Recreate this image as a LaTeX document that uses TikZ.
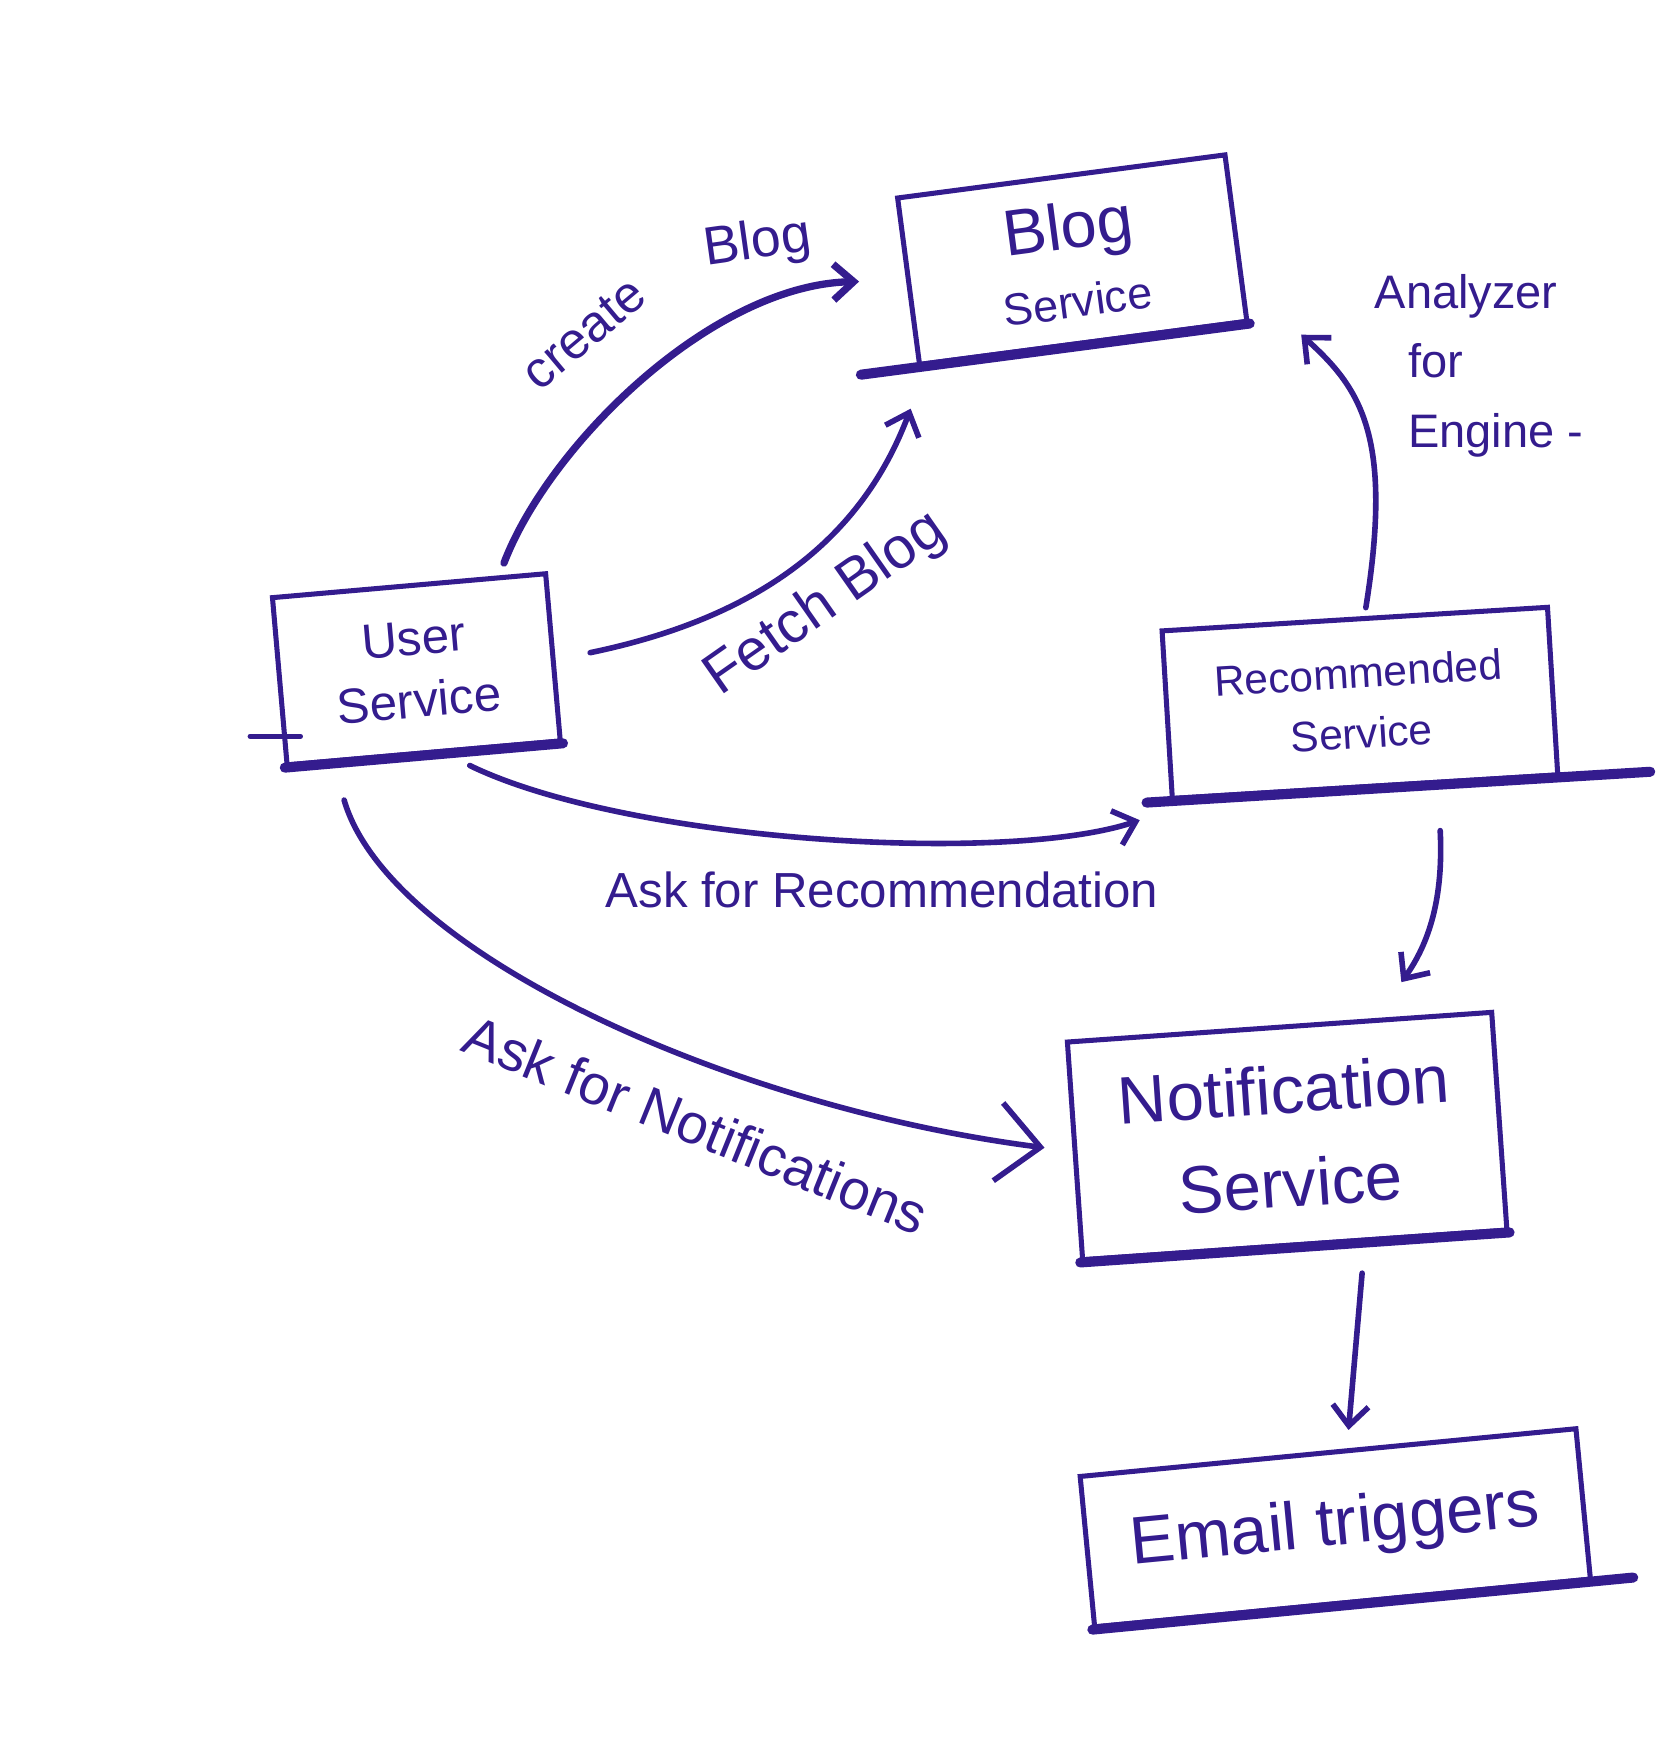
\documentclass[tikz,border=0pt]{standalone}
\usepackage{fontspec}
\setmainfont{Liberation Sans}
\usetikzlibrary{arrows.meta,calc}
\definecolor{ink}{HTML}{341C8E}
\begin{document}
\begin{tikzpicture}[x=1pt,y=-1pt,color=ink,
  box/.style={draw=ink, line width=4.5pt, rectangle, inner sep=0pt, text=ink, align=center},
  base/.style={draw=ink, line width=9pt, line cap=round},
  conn/.style={draw=ink, line width=5pt, line cap=round, line join=round,
    -{Straight Barb[length=18pt,width=32pt]}},
  lbl/.style={text=ink, inner sep=0pt}]
\fill[white] (0,0) rectangle (1490,1568);
\useasboundingbox (0,0) rectangle (1490,1568);

% boxes
\node[box, minimum width=245pt, minimum height=150pt, rotate=5, font=\fontsize{44}{56}\selectfont] (user) at (372,598)
  {User\\Service};
\node[box, minimum width=295pt, minimum height=150pt, rotate=7.5, font=\fontsize{58}{62}\selectfont] (blog) at (958,232)
  {Blog\\{\fontsize{40}{46}\selectfont Service}};
\node[box, minimum width=345pt, minimum height=150pt, rotate=3.5, font=\fontsize{38}{54}\selectfont] (rec) at (1215,628)
  {Recommended\\Service};
\node[box, minimum width=380pt, minimum height=195pt, rotate=4, font=\fontsize{60}{84}\selectfont] (notif) at (1150,1015)
  {Notification\\Service};
\node[box, minimum width=445pt, minimum height=135pt, rotate=5.5, font=\fontsize{60}{64}\selectfont] (email) at (1193,1365)
  {Email triggers};

% heavy bottom strokes
\draw[base] (user.south west) -- (user.south east);
\draw[base] ($(blog.south west)!-0.17!(blog.south east)$) -- (blog.south east);
\draw[base] ($(rec.south west)!-0.06!(rec.south east)$) -- ($(rec.south east)!-0.23!(rec.south west)$);
\draw[base] (notif.south west) -- (notif.south east);
\draw[base] (email.south west) -- ($(email.south east)!-0.08!(email.south west)$);
\draw[line width=4.5pt, line cap=round] ([xshift=-31pt,yshift=28pt]user.south west) -- ([xshift=14pt,yshift=28pt]user.south west);

% connectors
\draw[conn, line width=6.5pt] ([xshift=85pt,yshift=18pt]user.north) .. controls +(40,-105) and +(-132,3) .. ([xshift=-42pt]blog.west);
\draw[conn] ([xshift=31pt,yshift=4pt]user.east) .. controls +(135,-28) and +(-48,128) .. ([xshift=-6pt,yshift=-37pt]blog.south west);
\draw[conn] ([xshift=41pt,yshift=-9pt]user.south) .. controls +(140,68) and +(-120,40) .. ([xshift=-27pt,yshift=-17pt]rec.south west);
\draw[conn, -{Straight Barb[length=38pt,width=70pt]}] ([xshift=53pt,yshift=-29pt]user.south west) .. controls +(40,138) and +(-275,-35) .. ([xshift=-25pt,yshift=3pt]notif.west);
\draw[conn] ([xshift=10pt,yshift=8pt]rec.north) .. controls +(25,-155) and +(52,47) .. ([xshift=46pt,yshift=-10pt]blog.south east);
\draw[conn] ([xshift=67pt,yshift=-37pt]rec.south) .. controls +(3,60) and +(25,-35) .. ([xshift=109pt,yshift=38pt]notif.north);
\draw[conn] ([xshift=60pt,yshift=-23pt]notif.south) -- ([xshift=18.5pt,yshift=18pt]email.north);

% labels
\node[lbl, rotate=40, font=\fontsize{46}{50}\selectfont] (lcreate) at (522,298) {create};
\node[lbl, rotate=8, font=\fontsize{48}{50}\selectfont] (lblog) at (677,218) {Blog};
\node[lbl, rotate=35, font=\fontsize{52}{56}\selectfont] (lfetch) at (738,540) {Fetch Blog};
\node[lbl, font=\fontsize{44}{48}\selectfont] (lrec) at (788,795) {Ask for Recommendation};
\node[lbl, rotate=-22, font=\fontsize{50}{54}\selectfont] (lnot) at (622,1005) {Ask for Notifications};
\node[lbl, align=left, anchor=north west, font=\fontsize{42}{62}\selectfont] (lana) at (1228,245)
  {Analyzer\\\hspace*{30pt}for\\\hspace*{30pt}Engine -};
\end{tikzpicture}
\end{document}
